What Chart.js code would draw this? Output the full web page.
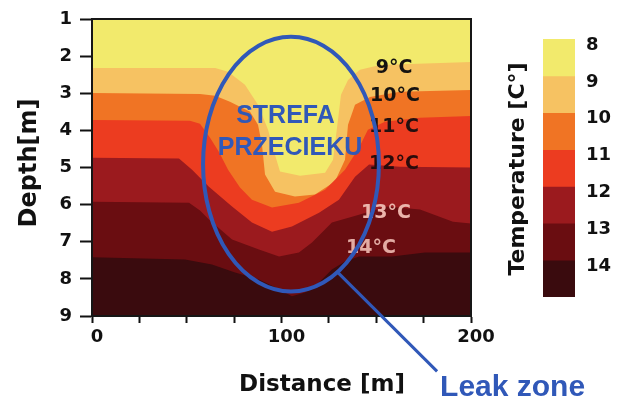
<!DOCTYPE html>
<html>
<head>
<meta charset="utf-8">
<title>Leak zone temperature section</title>
<script src="https://cdn.jsdelivr.net/npm/chart.js@4.4.1/dist/chart.umd.min.js"></script>
<style>
  html, body { margin: 0; padding: 0; background: #fff; }
  #wrap { position: relative; width: 626px; height: 401px; }
  #wrap canvas { position: absolute; left: 0; top: 0; }
</style>
</head>
<body>
<div id="wrap">
  <canvas id="section" width="626" height="401"></canvas>
  <canvas id="colorbar" width="626" height="401"></canvas>
</div>
<script>
// temperature bands (°C): band i covers [tempLevels[i], tempLevels[i] + 1)
const tempLevels = [8, 9, 10, 11, 12, 13, 14];
const bandColors = ['#f2ea6c', '#f6c262', '#f07424', '#ec3c20', '#9b1a1e', '#6a0d11', '#3a0b0e'];

const dist8  = [0, 200];
const depth8 = [1, 1];
const dist9  = [0, 65, 71.8, 80.7, 87.6, 92.9, 96.6, 99.2, 109.8, 123, 127.2, 129.8, 131.4, 135.1, 141.4, 152, 200];
const depth9 = [2.32, 2.32, 2.42, 2.77, 3.31, 3.98, 4.66, 5.11, 5.22, 5.14, 4.79, 3.72, 3.04, 2.64, 2.37, 2.24, 2.16];
const dist10  = [0, 57, 65, 72.8, 83.4, 87.6, 89.7, 91.3, 96.6, 107.1, 117.7, 128.2, 133.5, 135.1, 138.8, 146.7, 162.5, 200];
const depth10 = [2.99, 3.02, 3.07, 3.23, 3.5, 3.85, 4.39, 5.19, 5.65, 5.78, 5.73, 5.38, 4.79, 3.85, 3.31, 3.1, 2.96, 2.91];
const dist11  = [0, 51.7, 57, 62.3, 67, 71.8, 78.1, 84.4, 95, 109.2, 123, 133.5, 140.9, 145.6, 154.6, 173.1, 200];
const depth11 = [3.72, 3.74, 3.82, 4.2, 4.58, 5.06, 5.54, 5.87, 6.08, 5.95, 5.6, 5.06, 4.47, 3.98, 3.77, 3.66, 3.61];
const dist12  = [0, 45.9, 52.8, 61.7, 73.9, 84.4, 95, 105.5, 119.8, 130.3, 138.8, 146.2, 162.5, 200];
const depth12 = [4.74, 4.76, 5.06, 5.52, 6.05, 6.48, 6.73, 6.59, 6.22, 5.87, 5.25, 4.92, 4.98, 5.0];
const dist13  = [0, 51.2, 57, 61.7, 73.9, 88.1, 98.7, 109.2, 116.1, 126.6, 137.7, 155.7, 173.1, 190.5, 200];
const depth13 = [5.92, 5.95, 6.16, 6.4, 6.94, 7.21, 7.4, 7.29, 7.02, 6.48, 6.32, 6.05, 6.13, 6.46, 6.51];
const dist14  = [0, 49.1, 63.3, 75.5, 88.1, 98.7, 105.5, 112.4, 119.8, 126.6, 133.5, 140.9, 158.3, 175.7, 200];
const depth14 = [7.42, 7.48, 7.61, 7.83, 8.02, 8.28, 8.47, 8.37, 8.1, 7.75, 7.53, 7.4, 7.4, 7.29, 7.29];

// isotherm labels written on the section
const isoLabels = ['9°C', '10°C', '11°C', '12°C', '13°C', '14°C'];
const isoLabelDist = [159.4, 159.9, 159.4, 159.4, 155.1, 147.2];
const isoLabelDepth = [2.32, 3.07, 3.9, 4.92, 6.22, 7.16];
const isoLabelColors = ['#151210', '#151210', '#231010', '#2a0b0b', '#ebb5ac', '#e2aba3'];

// leak zone outline (centre and half-axes in m) and its pointer
const leakCentre = [105, 4.91];
const leakHalfAxes = [46.4, 3.43];
const leakPointerFrom = [129.8, 7.83];
const leakPointerTo = [182.1, 10.49];
const leakText = ['STREFA', 'PRZECIEKU'];
const leakTextDist = [102.1, 104.5];
const leakTextDepth = [3.61, 4.47];

const depthMax = 9;
const blue = '#3058b8';
const boundaries = [
    [dist8, depth8], [dist9, depth9], [dist10, depth10], [dist11, depth11],
    [dist12, depth12], [dist13, depth13], [dist14, depth14]
];

const tickFont = { family: 'DejaVu Sans', weight: 'bold', size: 18 };

const overlay = {
    id: 'overlay',
    afterDatasetsDraw(chart) {
        const { ctx, chartArea: a, scales: { x, y } } = chart;
        ctx.save();

        // frame round the section
        ctx.strokeStyle = '#161616';
        ctx.lineWidth = 2;
        ctx.strokeRect(a.left, a.top, a.right - a.left, a.bottom - a.top);

        // isotherm labels
        ctx.font = 'bold 19px "DejaVu Sans"';
        ctx.textAlign = 'center';
        ctx.textBaseline = 'middle';
        isoLabels.forEach((t, i) => {
            ctx.fillStyle = isoLabelColors[i];
            ctx.fillText(t, x.getPixelForValue(isoLabelDist[i]), y.getPixelForValue(isoLabelDepth[i]));
        });

        // leak zone ellipse + pointer
        const cx = x.getPixelForValue(leakCentre[0]);
        const cy = y.getPixelForValue(leakCentre[1]);
        const rx = x.getPixelForValue(leakCentre[0] + leakHalfAxes[0]) - cx;
        const ry = y.getPixelForValue(leakCentre[1] + leakHalfAxes[1]) - cy;
        ctx.strokeStyle = blue;
        ctx.lineWidth = 4;
        ctx.beginPath();
        ctx.ellipse(cx, cy, rx, ry, 0, 0, Math.PI * 2);
        ctx.stroke();

        const px1 = x.getPixelForValue(leakPointerFrom[0]), py1 = y.getPixelForValue(leakPointerFrom[1]);
        const px2 = x.getPixelForValue(leakPointerTo[0]), py2 = y.getPixelForValue(leakPointerTo[1]);
        ctx.lineWidth = 3;
        ctx.beginPath();
        ctx.moveTo(px1, py1);
        ctx.lineTo(px2, py2);
        ctx.stroke();

        ctx.fillStyle = blue;
        ctx.font = 'bold 25px "Liberation Sans"';
        leakText.forEach((t, i) => {
            ctx.fillText(t, x.getPixelForValue(leakTextDist[i]), y.getPixelForValue(leakTextDepth[i]));
        });

        ctx.font = 'bold 30px "Liberation Sans"';
        ctx.textAlign = 'left';
        ctx.textBaseline = 'alphabetic';
        ctx.fillText('Leak zone', px2 + 3, py2 + 25);

        // axis titles
        ctx.fillStyle = '#111';
        ctx.textAlign = 'center';
        ctx.textBaseline = 'middle';
        ctx.font = 'bold 23px "DejaVu Sans"';
        ctx.fillText('Distance [m]', 322, 385);

        ctx.translate(30, 163);
        ctx.rotate(-Math.PI / 2);
        ctx.font = 'bold 24px "DejaVu Sans"';
        ctx.fillText('Depth[m]', 0, 0);
        ctx.restore();

        ctx.save();
        ctx.translate(518, 169);
        ctx.rotate(-Math.PI / 2);
        ctx.fillStyle = '#111';
        ctx.textAlign = 'center';
        ctx.textBaseline = 'middle';
        ctx.font = 'bold 22px "DejaVu Sans"';
        ctx.fillText('Temperature [C°]', 0, 0);
        ctx.restore();
    }
};

new Chart(document.getElementById('section'), {
    type: 'line',
    data: {
        datasets: boundaries.map(([dist, depth], i) => ({
            data: dist.map((d, k) => ({ x: d, y: depth[k] })),
            backgroundColor: bandColors[i],
            borderColor: bandColors[i],
            borderWidth: 0,
            pointRadius: 0,
            tension: 0,
            fill: { value: depthMax },
            order: boundaries.length - i
        }))
    },
    options: {
        responsive: false,
        animation: false,
        layout: { padding: { left: 0, top: 19, right: 155, bottom: 0 } },
        plugins: { legend: { display: false }, tooltip: { enabled: false } },
        scales: {
            x: {
                type: 'linear', min: 0, max: 200,
                ticks: {
                    stepSize: 25, autoSkip: false, maxRotation: 0, padding: 4, labelOffset: 5,
                    color: '#111', font: tickFont,
                    callback: v => (v % 100 === 0 ? v : '')
                },
                grid: { drawOnChartArea: false, tickLength: 7, tickColor: '#111', tickWidth: 2 },
                border: { color: '#111', width: 2 },
                afterFit: s => { s.height = 85; }
            },
            y: {
                type: 'linear', reverse: true, min: 1, max: depthMax,
                ticks: { stepSize: 1, padding: 8, color: '#111', font: tickFont },
                grid: { drawOnChartArea: false, tickLength: 12, tickColor: '#111', tickWidth: 2 },
                border: { color: '#111', width: 2 },
                afterFit: s => { s.width = 92; }
            }
        }
    },
    plugins: [overlay]
});

// colour bar
new Chart(document.getElementById('colorbar'), {
    type: 'bar',
    data: {
        labels: ['T'],
        datasets: tempLevels.map((t, i) => ({
            data: [[t, t + 1]],
            backgroundColor: bandColors[i],
            borderWidth: 0,
            grouped: false,
            barPercentage: 1,
            categoryPercentage: 1
        }))
    },
    options: {
        responsive: false,
        animation: false,
        layout: { padding: { left: 543, top: 39, right: 11, bottom: 104 } },
        plugins: { legend: { display: false }, tooltip: { enabled: false } },
        scales: {
            x: { display: false },
            y: {
                position: 'right', reverse: true, min: 8, max: 15,
                grid: { display: false, drawTicks: false },
                border: { display: false },
                ticks: {
                    stepSize: 1, padding: 11, labelOffset: 6, color: '#111', font: tickFont,
                    callback: v => (v < 15 ? v : '')
                },
                afterFit: s => { s.width = 40; }
            }
        }
    }
});
</script>
</body>
</html>
